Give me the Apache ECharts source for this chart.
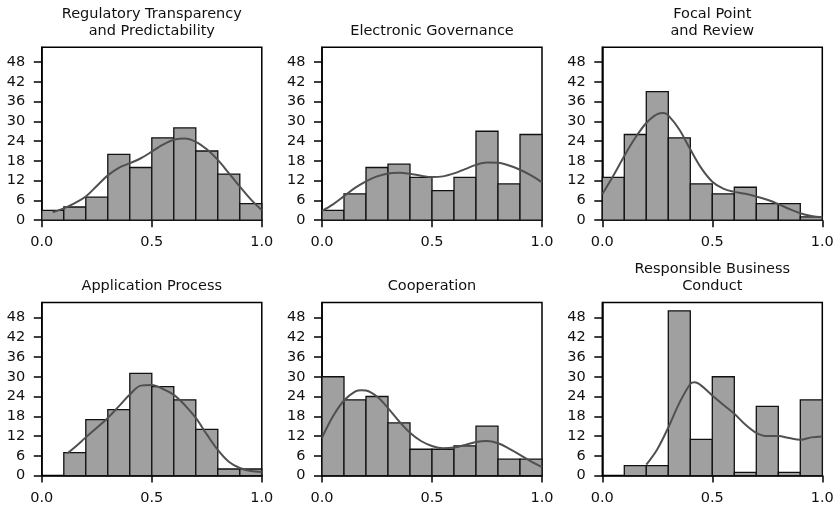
<!DOCTYPE html>
<html>
<head>
<meta charset="utf-8">
<script src="https://cdn.jsdelivr.net/npm/echarts@6/dist/echarts.min.js"></script>
<style>html,body{margin:0;padding:0;background:#fff}#c{width:838px;height:509px}</style>
</head>
<body>
<div id="c"></div>
<script>
const titles = [
  "Regulatory Transparency\nand Predictability",
  "Electronic Governance",
  "Focal Point\nand Review",
  "Application Process",
  "Cooperation",
  "Responsible Business\nConduct"
];
const binEdges = [0, 0.1, 0.2, 0.3, 0.4, 0.5, 0.6, 0.7, 0.8, 0.9, 1.0];
const countsRegulatory = [3, 4, 7, 20, 16, 25, 28, 21, 14, 5];
const countsElectronic = [3, 8, 16, 17, 13, 9, 13, 27, 11, 26];
const countsFocal = [13, 26, 39, 25, 11, 8, 10, 5, 5, 1];
const countsApplication = [0, 7, 17, 20, 31, 27, 23, 14, 2, 2];
const countsCooperation = [30, 23, 24, 16, 8, 8, 9, 15, 5, 5];
const countsResponsible = [0, 3, 3, 50, 11, 30, 1, 21, 1, 23];

const kdeRegulatory = [[0.05,2.4],[0.1,3.6],[0.15,5.2],[0.2,7.2],[0.25,10.4],[0.3,13.6],[0.35,15.9],[0.4,17.3],[0.45,18.8],[0.5,20.8],[0.55,22.9],[0.6,24.4],[0.65,24.8],[0.7,23.8],[0.75,21.5],[0.8,18.3],[0.85,14.3],[0.9,10.2],[0.95,6.3],[1.0,3.0]];
const kdeElectronic = [[0,2.8],[0.05,4.8],[0.1,7.3],[0.15,9.8],[0.2,11.8],[0.25,13.3],[0.3,14.2],[0.35,14.4],[0.4,14.1],[0.45,13.5],[0.5,13.1],[0.55,13.3],[0.6,14.2],[0.65,15.5],[0.7,16.8],[0.75,17.5],[0.8,17.4],[0.85,16.6],[0.9,15.3],[0.95,13.6],[1.0,11.5]];
const kdeFocal = [[0,7.9],[0.05,13.5],[0.1,19.5],[0.15,25],[0.2,29.5],[0.25,32.2],[0.28,32.5],[0.3,31.8],[0.35,27.5],[0.4,21.5],[0.45,15.8],[0.5,11.7],[0.55,9.6],[0.6,8.6],[0.65,8.0],[0.7,7.2],[0.75,6.2],[0.8,4.9],[0.85,3.4],[0.9,2.1],[0.95,1.3],[1.0,0.9]];
const kdeApplication = [[0.115,6.7],[0.15,8.6],[0.2,11.6],[0.25,14.5],[0.3,17.5],[0.35,21],[0.4,24.6],[0.45,27.3],[0.5,27.5],[0.55,26.3],[0.6,24.5],[0.65,21.4],[0.7,17.5],[0.75,12.5],[0.8,7.8],[0.85,4.2],[0.9,2.3],[0.95,1.4],[1.0,1.1]];
const kdeCooperation = [[0,11.5],[0.05,18],[0.1,22.8],[0.15,25.5],[0.18,25.9],[0.2,25.8],[0.25,24],[0.3,20.5],[0.35,16.5],[0.4,13],[0.45,10.5],[0.5,9],[0.55,8.3],[0.6,8.5],[0.65,9.3],[0.7,10.2],[0.75,10.5],[0.8,9.8],[0.85,8.2],[0.9,6.3],[0.95,4.3],[1.0,2.6]];
const kdeResponsible = [[0.2,3.3],[0.25,8],[0.3,14.6],[0.35,22],[0.4,27.8],[0.42,28.3],[0.45,27.3],[0.5,24.3],[0.55,21.5],[0.6,18.8],[0.65,15.5],[0.7,13],[0.75,12],[0.8,12],[0.85,11.4],[0.9,10.9],[0.95,11.6],[1.0,11.9]];

const yTicks = [0, 6, 12, 18, 24, 30, 36, 42, 48];
const xTicks = [0, 0.5, 1.0];

const allCounts = [countsRegulatory, countsElectronic, countsFocal, countsApplication, countsCooperation, countsResponsible];
const allKde = [kdeRegulatory, kdeElectronic, kdeFocal, kdeApplication, kdeCooperation, kdeResponsible];

const FONT = "DejaVu Sans";
const FS = 14.5;
const lefts = [41.8, 322, 602.3];
const tops = [47.2, 302.6];
const W = 220, H = 173;
const titleBaseline = [36, 291];

const grids = [], xAxes = [], yAxes = [], series = [], titleOpts = [];
for (let i = 0; i < 6; i++) {
  const r = Math.floor(i / 3), c = i % 3;
  grids.push({left: lefts[c], top: tops[r], width: W, height: H, show: true, borderColor: '#000', borderWidth: 1.5, backgroundColor: 'transparent', outerBoundsMode: 'none', containLabel: false});
  xAxes.push({type: 'value', gridIndex: i, min: 0, max: 1, interval: 0.5,
    axisLine: {show: true, onZero: false, lineStyle: {color: '#000', width: 1.5}},
    axisTick: {show: true, length: 7, lineStyle: {color: '#000', width: 1.5}, customValues: xTicks},
    axisLabel: {show: true, margin: 15, color: '#111', fontFamily: FONT, fontSize: FS, customValues: xTicks, formatter: v => v.toFixed(1)},
    splitLine: {show: false}});
  yAxes.push({type: 'value', gridIndex: i, min: 0, max: 52.5,
    axisLine: {show: true, onZero: false, lineStyle: {color: '#000', width: 1.5}},
    axisTick: {show: true, length: 8, lineStyle: {color: '#000', width: 1.5}, customValues: yTicks},
    axisLabel: {show: true, margin: 16.5, color: '#111', fontFamily: FONT, fontSize: FS, customValues: yTicks},
    splitLine: {show: false}});
  const counts = allCounts[i];
  const binData = [];
  for (let b = 0; b < counts.length; b++) {
    if (counts[b] > 0) binData.push([binEdges[b], binEdges[b + 1], counts[b]]);
  }
  series.push({type: 'custom', xAxisIndex: i, yAxisIndex: i, z: 2, silent: true,
    data: binData, encode: {x: [0, 1], y: 2},
    renderItem: (params, api) => {
      const p0 = api.coord([api.value(0), api.value(2)]);
      const p1 = api.coord([api.value(1), 0]);
      return {type: 'rect', shape: {x: p0[0], y: p0[1], width: p1[0] - p0[0], height: p1[1] - p0[1]},
        style: {fill: '#a0a0a0', stroke: '#111', lineWidth: 1.3}};
    }});
  series.push({type: 'line', xAxisIndex: i, yAxisIndex: i, z: 3, silent: true, data: allKde[i], smooth: 0.35,
    showSymbol: false, symbol: 'none', lineStyle: {color: '#505050', width: 2}});
  const lines = titles[i].split('\n').length;
  const lh = 17;
  titleOpts.push({text: titles[i], left: lefts[c] + W / 2, textAlign: 'center',
    top: titleBaseline[r] - 13.7 - (lines - 1) * lh, padding: 0,
    textStyle: {fontFamily: FONT, fontSize: FS, fontWeight: 'normal', color: '#111', lineHeight: lh}});
}

const chart = echarts.init(document.getElementById('c'), null, {renderer: 'canvas'});
chart.setOption({
  animation: false,
  backgroundColor: '#fff',
  title: titleOpts,
  grid: grids,
  xAxis: xAxes,
  yAxis: yAxes,
  series: series
});
</script>
</body>
</html>
